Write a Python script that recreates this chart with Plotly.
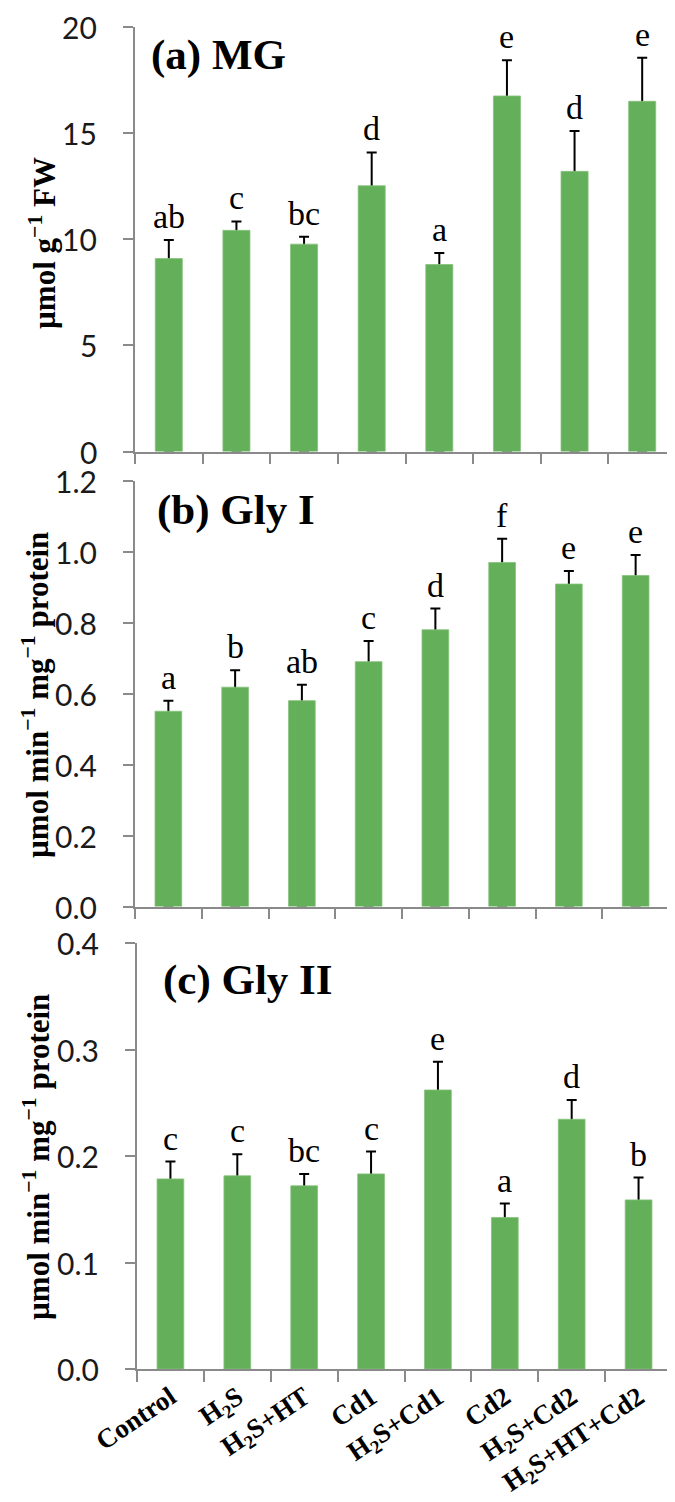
import plotly.graph_objects as go

categories = ["Control", "H2S", "H2S+HT", "Cd1", "H2S+Cd1", "Cd2", "H2S+Cd2", "H2S+HT+Cd2"]
tick_labels = ["<b>Control</b>", "<b>H<sub>2</sub>S</b>", "<b>H<sub>2</sub>S+HT</b>", "<b>Cd1</b>",
               "<b>H<sub>2</sub>S+Cd1</b>", "<b>Cd2</b>", "<b>H<sub>2</sub>S+Cd2</b>",
               "<b>H<sub>2</sub>S+HT+Cd2</b>"]

mg_values = [9.09, 10.42, 9.77, 12.52, 8.81, 16.75, 13.2, 16.5]
mg_errors = [0.87, 0.42, 0.35, 1.57, 0.54, 1.68, 1.9, 2.05]
mg_letters = ["ab", "c", "bc", "d", "a", "e", "d", "e"]
mg_ticks = [0, 5, 10, 15, 20]
mg_tick_text = ["0", "5", "10", "15", "20"]

gly1_values = [0.551, 0.619, 0.581, 0.691, 0.781, 0.971, 0.910, 0.934]
gly1_errors = [0.030, 0.048, 0.045, 0.058, 0.060, 0.067, 0.037, 0.058]
gly1_letters = ["a", "b", "ab", "c", "d", "f", "e", "e"]
gly1_ticks = [0, 0.2, 0.4, 0.6, 0.8, 1.0, 1.2]
gly1_tick_text = ["0.0", "0.2", "0.4", "0.6", "0.8", "1.0", "1.2"]

gly2_values = [0.1785, 0.1814, 0.172, 0.1832, 0.262, 0.1423, 0.2345, 0.1588]
gly2_errors = [0.0163, 0.0203, 0.0112, 0.021, 0.0266, 0.0131, 0.0181, 0.021]
gly2_letters = ["c", "c", "bc", "c", "e", "a", "d", "b"]
gly2_ticks = [0, 0.1, 0.2, 0.3, 0.4]
gly2_tick_text = ["0.0", "0.1", "0.2", "0.3", "0.4"]

panel_titles = ["(a) MG", "(b) Gly I", "(c) Gly II"]
y_titles = ["µmol g<sup>−1</sup> FW", "µmol min<sup>−1</sup> mg<sup>−1</sup> protein",
            "µmol min<sup>−1</sup> mg<sup>−1</sup> protein"]

W, H = 675, 1502
BAR = "#64AF59"
AXC = "#8a8a8a"
SERIF = "Liberation Serif"
SANS = "Lato"

panels = [
    dict(vals=mg_values, errs=mg_errors, letters=mg_letters, ticks=mg_ticks, ttext=mg_tick_text,
         rng=[0, 20], ypix=(19, 443.5), xpix=(127, 668), title_pos=(141, 47.5),
         ytitle_pos=(35, 235), lab_x=90),
    dict(vals=gly1_values, errs=gly1_errors, letters=gly1_letters, ticks=gly1_ticks, ttext=gly1_tick_text,
         rng=[0, 1.2], ypix=(473.3, 898.5), xpix=(127, 661), title_pos=(147, 501.7),
         ytitle_pos=(28, 687), lab_x=90),
    dict(vals=gly2_values, errs=gly2_errors, letters=gly2_letters, ticks=gly2_ticks, ttext=gly2_tick_text,
         rng=[0, 0.4], ypix=(935, 1361), xpix=(129, 664), title_pos=(153, 971.7),
         ytitle_pos=(28, 1149), lab_x=92),
]

fig = go.Figure()
annotations = []
for i, p in enumerate(panels):
    n = "" if i == 0 else str(i + 1)
    xa, ya = "x" + n, "y" + n
    # invisible bars carrying error bars (lower part hidden by the visible bars)
    fig.add_trace(go.Bar(
        x=categories, y=p["vals"], xaxis=xa, yaxis=ya,
        marker=dict(color="rgba(0,0,0,0)", line=dict(width=0)),
        error_y=dict(type="data", array=p["errs"], arrayminus=p["vals"], symmetric=False,
                     color="black", thickness=2, width=5),
        hoverinfo="skip", showlegend=False,
    ))
    fig.add_trace(go.Bar(
        x=categories, y=p["vals"], xaxis=xa, yaxis=ya,
        marker=dict(color=BAR, line=dict(color="#86c27c", width=0.8)),
        showlegend=False,
    ))
    for c, v, e, t in zip(categories, p["vals"], p["errs"], p["letters"]):
        annotations.append(dict(
            x=c, y=v + e, xref=xa, yref=ya, text=t, showarrow=False,
            yanchor="bottom", xanchor="center", yshift=3,
            font=dict(family=SERIF, size=34, color="black"),
        ))
    # y tick labels, set away from the axis as in the reference
    for tv, tt in zip(p["ticks"], p["ttext"]):
        annotations.append(dict(
            x=p["lab_x"] / W, y=tv, xref="paper", yref=ya, text=tt, showarrow=False,
            xanchor="right", yanchor="middle", borderpad=0,
            font=dict(family=SANS, size=30, color="#1a1a1a"),
        ))
    tx, ty = p["title_pos"]
    annotations.append(dict(
        x=tx / W, y=1 - ty / H, xref="paper", yref="paper", text="<b>" + panel_titles[i] + "</b>",
        showarrow=False, xanchor="left", yanchor="middle",
        font=dict(family=SERIF, size=43, color="black"),
    ))
    yx, yy = p["ytitle_pos"]
    annotations.append(dict(
        x=yx / W, y=1 - yy / H, xref="paper", yref="paper", text="<b>" + y_titles[i] + "</b>",
        showarrow=False, xanchor="center", yanchor="middle", textangle=-90,
        font=dict(family=SERIF, size=31, color="black"),
    ))

    y0, y1 = p["ypix"]
    x0, x1 = p["xpix"]
    xaxis = dict(
        domain=[x0 / W, x1 / W], anchor=ya, type="category",
        showline=True, linecolor=AXC, linewidth=1.6,
        ticks="outside", tickson="boundaries", ticklen=11, tickcolor=AXC, tickwidth=1.6,
        showgrid=False, zeroline=False, automargin=False, fixedrange=True,
        range=[-0.5, 7.5],
    )
    if i == 2:
        xaxis.update(showticklabels=True, tickvals=categories, ticktext=tick_labels,
                     tickangle=-34, tickfont=dict(family=SERIF, size=27, color="black"))
    else:
        xaxis.update(showticklabels=False)
    yaxis = dict(
        domain=[1 - y1 / H, 1 - y0 / H], anchor=xa, range=p["rng"], tickvals=p["ticks"],
        showticklabels=False, showline=True, linecolor=AXC, linewidth=1.6,
        ticks="outside", ticklen=10, tickcolor=AXC, tickwidth=1.6,
        showgrid=False, zeroline=False, automargin=False, fixedrange=True,
    )
    fig.layout["xaxis" + n] = xaxis
    fig.layout["yaxis" + n] = yaxis

fig.update_layout(
    width=W, height=H, autosize=False,
    margin=dict(l=0, r=0, t=0, b=0),
    paper_bgcolor="white", plot_bgcolor="white",
    barmode="overlay", bargap=0.6,
    annotations=annotations,
    showlegend=False,
)

fig.write_html("out.html")
